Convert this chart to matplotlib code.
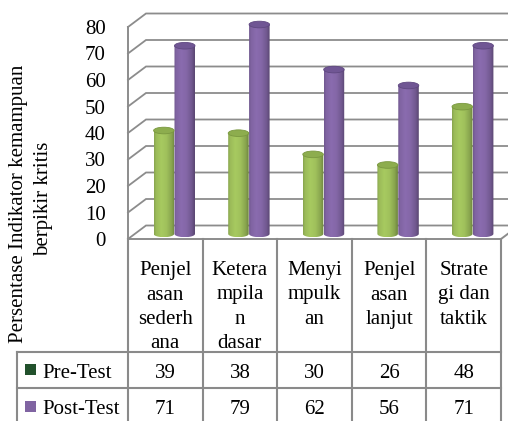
import numpy as np
import matplotlib
matplotlib.use("Agg")
import matplotlib.pyplot as plt
import matplotlib.transforms as mtransforms
from matplotlib.patches import PathPatch, Ellipse, Rectangle
from matplotlib.path import Path
from matplotlib.lines import Line2D

# ---------------- data ----------------
categories = ["Penjel\nasan\nsederh\nana",
              "Ketera\nmpila\nn\ndasar",
              "Menyi\nmpulk\nan",
              "Penjel\nasan\nlanjut",
              "Strate\ngi dan\ntaktik"]
series_names = ["Pre-Test", "Post-Test"]
pre_test = [39, 38, 30, 26, 48]
post_test = [71, 79, 62, 56, 71]
y_ticks = [0, 10, 20, 30, 40, 50, 60, 70, 80]
y_label_lines = ["Persentase Indikator kemampuan", "berpikir kritis"]

# ---------------- style ----------------
plt.rcParams['font.family'] = ['Liberation Serif', 'DejaVu Serif']
FS = 15
W, H = 508, 421
fig = plt.figure(figsize=(W / 100, H / 100), dpi=100)
fig.patch.set_facecolor("white")

def fy(p):
    return 1 - p / H

def fx(p):
    return p / W

x_left, x_right = 128, 501
y_zero, y_80 = 239, 27
ppu = (y_zero - y_80) / 80.0
ymax = 88
ax_top = y_zero - ymax * ppu
ax = fig.add_axes([fx(x_left), fy(y_zero), (x_right - x_left) / W, (y_zero - ax_top) / H])
ncat = len(categories)
ax.set_xlim(0, ncat)
ax.set_ylim(0, ymax)
for s in ax.spines.values():
    s.set_visible(False)
ax.patch.set_visible(False)
ax.set_xticks([])
ax.set_yticks(y_ticks)
ax.set_yticklabels([str(v) for v in y_ticks], fontsize=FS)
ax.tick_params(axis='y', length=0, pad=16)

cat_px = (x_right - x_left) / ncat
dx = 18 / cat_px
dy = 13.5 / ppu

grid_c = "#8c8c8c"
for v in y_ticks:
    ax.plot([0, dx, ncat + dx + 0.2], [v, v + dy, v + dy], color=grid_c, lw=1.3,
            clip_on=False, zorder=1, solid_joinstyle='miter')
ax.plot([0, 0], [0, 80], color=grid_c, lw=1.4, clip_on=False, zorder=1)
ax.plot([0, ncat, ncat + dx], [0, 0, dy], color=grid_c, lw=1.4, clip_on=False, zorder=1)

# ---------------- cylinders ----------------
w = 0.275
off = 0.14
eh = 2.5
bar_dx = dx * 0.5
bar_dy = dy * 0.38

tpts = [0, 0.1, 0.35, 0.6, 0.85, 1.0]
kpts = [0.88, 1.0, 1.08, 1.03, 0.88, 0.70]

def grad_img(rgb):
    t = np.linspace(0, 1, 64)
    k = np.interp(t, tpts, kpts)
    c = np.clip(np.outer(k, np.array(rgb) / 255.0), 0, 1)
    return np.stack([c, c])

def cylinder(xc, val, rgb, top_col, edge_col):
    x0, x1 = xc - w / 2, xc + w / 2
    yb = bar_dy
    yt = val + bar_dy
    th = np.linspace(np.pi, 2 * np.pi, 50)
    ax_ = xc + (w / 2) * np.cos(th)
    ay_ = yb + (eh / 2) * np.sin(th)
    verts = [(x0, yt)] + list(zip(ax_, ay_)) + [(x1, yt), (x0, yt)]
    path = Path(np.array(verts))
    clip = PathPatch(path, transform=ax.transData, fc='none', ec='none')
    ax.add_patch(clip)
    im = ax.imshow(grad_img(rgb), extent=[x0, x1, yb - eh / 2, yt], aspect='auto',
                   interpolation='bilinear', origin='lower', zorder=3)
    im.set_clip_path(clip)
    ax.add_patch(Ellipse((xc, yt), w, eh, fc=top_col, ec=edge_col, lw=0.6, zorder=4))

green = (155, 187, 89)
purple = (128, 100, 162)
for i in range(ncat):
    c = i + 0.5 + bar_dx
    cylinder(c - off, pre_test[i], green, "#8dad4e", "#7a9840")
    cylinder(c + off, post_test[i], purple, "#705694", "#5f4880")

ax.set_xlim(0, ncat)
ax.set_ylim(0, ymax)

# ---------------- y label ----------------
fig.text(fx(19), fy(204), y_label_lines[0], rotation=90, ha='center', va='center', fontsize=FS)
fig.text(fx(44), fy(199), y_label_lines[1], rotation=90, ha='center', va='center', fontsize=FS)

# ---------------- data table ----------------
trans = mtransforms.blended_transform_factory(ax.transData, fig.transFigure)
tc = "#8a8a8a"
tlw = 1.5
for i in range(ncat + 1):
    fig.add_artist(Line2D([i, i], [fy(y_zero), fy(H + 5)], transform=trans, color=tc, lw=tlw))
legend_left = 17
for yy in [352, 388]:
    fig.add_artist(Line2D([fx(legend_left), fx(x_right)], [fy(yy), fy(yy)],
                          transform=fig.transFigure, color=tc, lw=tlw))
fig.add_artist(Line2D([fx(legend_left), fx(legend_left)], [fy(352), fy(H + 5)],
                      transform=fig.transFigure, color=tc, lw=tlw))

header_base = [275, 299.5, 324, 348.5]
for i, cat in enumerate(categories):
    for j, line in enumerate(cat.split("\n")):
        fig.text(i + 0.5, fy(header_base[j]), line, transform=trans, ha='center',
                 va='baseline', fontsize=FS)

row_base = [378, 414.5]
key_cols = ["#22512c", "#8064a2"]
for r, (name, vals) in enumerate(zip(series_names, [pre_test, post_test])):
    b = row_base[r]
    fig.add_artist(Rectangle((fx(25), fy(b - 3)), 11 / W, 11 / H, transform=fig.transFigure,
                             fc=key_cols[r], ec='none'))
    fig.text(fx(42), fy(b), name, ha='left', va='baseline', fontsize=FS)
    for i, v in enumerate(vals):
        fig.text(i + 0.5, fy(b), str(v), transform=trans, ha='center', va='baseline', fontsize=FS)

fig.savefig("out.png", dpi=100)
